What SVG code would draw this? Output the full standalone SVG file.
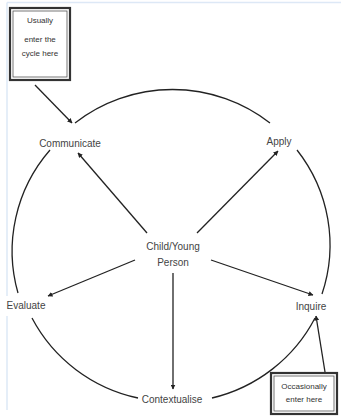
<svg xmlns="http://www.w3.org/2000/svg" width="341" height="420" viewBox="0 0 341 420">
<style>
.lbl{font-family:"Liberation Sans",Arial,sans-serif;font-size:10px;fill:#444;text-anchor:middle}
.small{font-family:"Liberation Sans",Arial,sans-serif;font-size:8px;fill:#333;text-anchor:middle}
.c{fill:none;stroke:#222;stroke-width:1.3}
.a{fill:none;stroke:#222;stroke-width:1.3;marker-end:url(#ah)}
.box{fill:#fff;stroke:#333;stroke-width:2.2}
.inner{fill:none;stroke:#555;stroke-width:0.8}
.frame{stroke:#dde8f6;stroke-width:1.5;fill:none}
</style>
<defs>
<marker id="ah" viewBox="0 0 10 10" refX="9" refY="5" markerWidth="5" markerHeight="5" markerUnits="userSpaceOnUse" orient="auto">
<path d="M0,0 L10,5 L0,10 z" fill="#222"/>
</marker>
</defs>
<rect width="341" height="420" fill="#fff"/>
<g id="frame">
<path class="frame" d="M7,2.5 H341"/>
<path class="frame" d="M7,2.5 V296"/>
<path class="frame" d="M7,316 V410"/>
</g>
<g id="connectors">
<path class="c" d="M75,123 A157,155 0 0 1 270,123"/>
<path class="c" d="M50,150 A157,155 0 0 0 18,293"/>
<path class="c" d="M297,150 A157,155 0 0 1 322,294"/>
<path class="c" d="M32,318 A157,155 0 0 0 138,398"/>
<path class="c" d="M212,398 A157,155 0 0 0 315,318"/>
<path class="a" d="M35,85 L72,123"/>
<path class="a" d="M147,233 L78,153"/>
<path class="a" d="M197,233 L278,151"/>
<path class="a" d="M135,260 L48,296"/>
<path class="a" d="M211,260 L313,295"/>
<path class="a" d="M173,273 L173,389"/>
<path class="a" d="M325,372 L316,316"/>
</g>
<g id="usually">
<rect class="box" x="10" y="8" width="60" height="72"/>
<rect class="inner" x="13" y="11" width="54" height="66"/>
<text class="small" x="40" y="23">Usually</text>
<text class="small" x="40" y="42">enter the</text>
<text class="small" x="40" y="56">cycle here</text>
</g>
<g id="communicate"><text class="lbl" x="70" y="147">Communicate</text></g>
<g id="apply"><text class="lbl" x="279" y="145">Apply</text></g>
<g id="child"><text class="lbl" x="173" y="250">Child/Young</text><text class="lbl" x="173" y="266">Person</text></g>
<g id="evaluate"><text class="lbl" x="26" y="309">Evaluate</text></g>
<g id="inquire"><text class="lbl" x="311" y="310">Inquire</text></g>
<g id="contextualise"><text class="lbl" x="172" y="403">Contextualise</text></g>
<g id="occasionally">
<rect class="box" x="271" y="373" width="66" height="41"/>
<rect class="inner" x="274" y="376" width="60" height="35"/>
<text class="small" x="304" y="389">Occasionally</text>
<text class="small" x="304" y="402">enter here</text>
</g>
</svg>
